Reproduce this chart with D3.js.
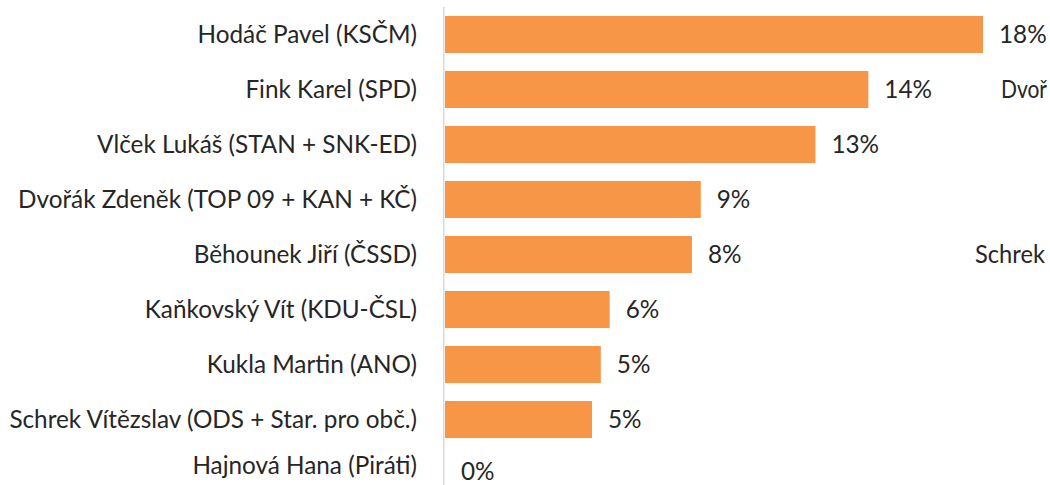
<!DOCTYPE html>
<html><head><meta charset="utf-8">
<script src="https://cdn.jsdelivr.net/npm/d3@7"></script>
<style>html,body{margin:0;padding:0;background:#fff;overflow:hidden}</style>
</head><body>
<svg id="c" width="1050" height="485"></svg>
<script>
const categories = ["Hodáč Pavel (KSČM)","Fink Karel (SPD)","Vlček Lukáš (STAN + SNK-ED)","Dvořák Zdeněk (TOP 09 + KAN + KČ)","Běhounek Jiří (ČSSD)","Kaňkovský Vít (KDU-ČSL)","Kukla Martin (ANO)","Schrek Vítězslav (ODS + Star. pro obč.)","Hajnová Hana (Piráti)"];
const values = [0.183, 0.144, 0.126, 0.087, 0.084, 0.056, 0.053, 0.050, 0.0];
const valueLabels = ["18%","14%","13%","9%","8%","6%","5%","5%","0%"];
// partially visible labels of a neighbouring chart, as visible in the frame
const sideLabels = [{row:"Fink Karel (SPD)", text:"Dvoř"}, {row:"Běhounek Jiří (ČSSD)", text:"Schrek"}];

const W = 1050, H = 485;
const svg = d3.select("#c");
const font = "Lato, 'Open Sans', sans-serif";
const fs = 24.3;
const base = 0.34 * fs;
const x = d3.scaleLinear().domain([0, 0.2]).range([445, 1033]);
const y = d3.scaleBand().domain(categories).range([7, 502]).paddingInner(0.327).paddingOuter(0.163);
const mid = c => y(c) + y.bandwidth() / 2;

svg.selectAll("rect.bar").data(values).enter().append("rect")
  .attr("x", x(0)).attr("y", (d,i)=>y(categories[i]))
  .attr("width", d=>x(d)-x(0)).attr("height", y.bandwidth())
  .attr("fill", "#F79646");

svg.append("line").attr("x1", 443.75).attr("x2", 443.75).attr("y1", 7).attr("y2", 502)
  .attr("stroke", "#d9d9d9").attr("stroke-width", 1.5);

// labels kept inside the frame, as the original does for the last row
svg.selectAll("text.cat").data(categories).enter().append("text")
  .attr("x", 417).attr("y", d=>Math.min(mid(d) + base, H - 11))
  .attr("text-anchor", "end").attr("font-family", font).attr("font-size", fs)
  .attr("fill", "#262626").text(d=>d);

svg.selectAll("text.val").data(values).enter().append("text")
  .attr("x", d=>x(d)+16).attr("y", (d,i)=>Math.min(mid(categories[i]) + base, H - 5))
  .attr("font-family", font).attr("font-size", fs).attr("fill", "#262626")
  .text((d,i)=>valueLabels[i]);

svg.selectAll("text.side").data(sideLabels).enter().append("text")
  .attr("x", (d,i)=> i===0 ? 1001 : 975).attr("y", d=>mid(d.row) + base)
  .attr("font-family", font).attr("font-size", fs).attr("fill", "#262626")
  .attr("textLength", (d,i)=> i===0 ? 46 : 70).attr("lengthAdjust", "spacingAndGlyphs")
  .text(d=>d.text);
</script>
</body></html>
